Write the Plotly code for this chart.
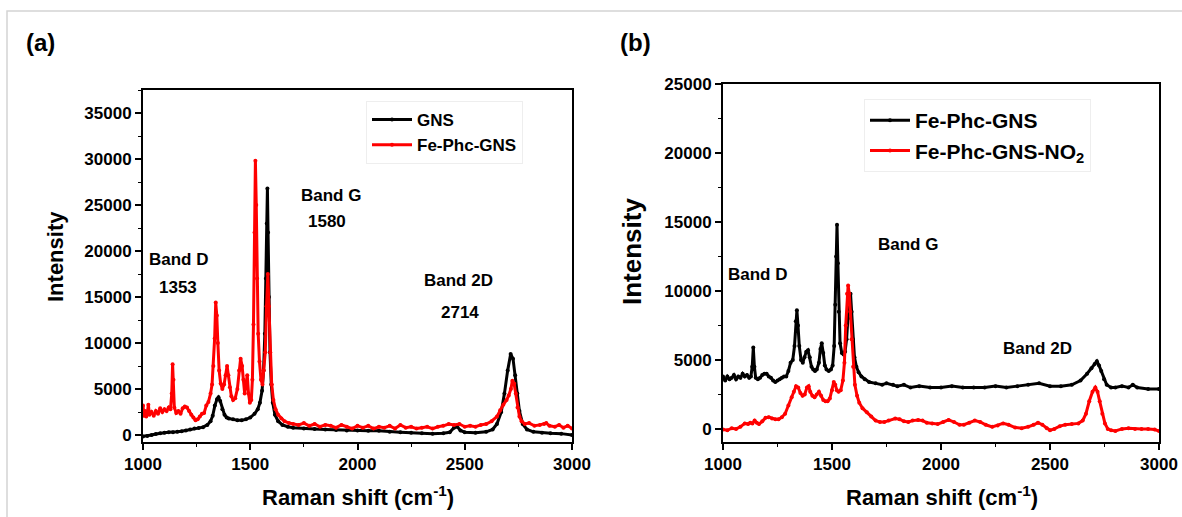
import plotly.graph_objects as go

W, H = 1182, 517

# ---------------- Panel (a) data ----------------
gns_x = [1000,1020,1040,1060,1080,1100,1120,1140,1160,1180,1200,1220,1240,1260,1280,1300,1315,1325,1335,1345,1352,1360,1370,1380,1390,1400,1420,1440,1460,1480,1500,1520,1535,1545,1555,1562,1568,1573,1577,1580,1583,1587,1592,1598,1605,1615,1630,1650,1675,1700,1750,1800,1850,1900,1950,2000,2050,2100,2150,2200,2250,2300,2350,2400,2430,2450,2465,2480,2500,2550,2600,2630,2650,2670,2685,2700,2714,2725,2735,2745,2755,2770,2790,2820,2860,2900,2950,3000]
gns_y = [-150,-100,0,100,200,250,300,300,350,400,500,600,700,750,850,1100,1500,2100,3200,3900,4100,3700,2800,2200,1900,1800,1700,1600,1600,1700,1900,2300,2800,3500,4800,7000,11000,17000,23000,26800,22000,15000,9000,5500,3500,2200,1500,1100,900,800,700,650,600,550,500,500,450,450,350,300,250,200,150,200,300,800,900,500,300,250,350,600,1200,2500,4500,7000,8800,8300,6500,4500,2600,1200,600,350,250,200,150,0]

fephc_x = [1000,1005,1010,1015,1020,1025,1030,1040,1050,1060,1070,1080,1090,1100,1110,1120,1128,1134,1138,1142,1146,1155,1165,1175,1185,1195,1205,1215,1225,1235,1245,1255,1265,1275,1285,1295,1305,1315,1322,1328,1334,1339,1344,1349,1355,1362,1370,1378,1385,1392,1398,1405,1412,1420,1430,1440,1448,1455,1462,1468,1474,1480,1486,1492,1498,1505,1510,1515,1520,1524,1528,1532,1537,1543,1550,1557,1563,1570,1576,1582,1587,1593,1600,1608,1618,1630,1645,1660,1680,1700,1725,1750,1775,1800,1825,1850,1875,1900,1925,1950,1975,2000,2025,2050,2075,2100,2125,2150,2175,2200,2225,2250,2275,2300,2325,2350,2375,2400,2425,2450,2475,2500,2525,2550,2575,2600,2625,2650,2665,2680,2695,2705,2715,2722,2730,2738,2746,2755,2765,2780,2800,2825,2850,2870,2880,2895,2920,2940,2960,2980,3000]
fephc_y = [3200,2100,2600,2000,2400,3300,2200,2500,2100,2600,2300,2900,2500,2800,2600,3000,2800,4500,7700,6000,3000,2400,2600,2300,2900,3100,3000,2600,2200,1900,1600,1700,2000,2300,2400,3200,3600,4500,5500,7500,10500,14400,13000,10000,7000,5600,5000,5500,6500,7500,6500,5200,4200,3800,4000,5000,7000,8300,7500,6000,4500,5500,6500,4500,3500,3800,6000,12000,22000,29800,25000,17000,11000,8000,6000,5500,7000,9000,14000,17500,14000,9000,5500,3800,2800,2200,1800,1500,1300,1200,1100,1300,1000,1200,900,1100,1000,800,1100,900,700,1000,800,1000,700,900,800,1000,700,1100,800,900,700,800,900,700,900,1000,1200,1100,1200,900,1000,900,1100,1200,1500,2000,2700,3300,3800,4300,5000,5900,5600,4500,3000,2000,1500,1200,1300,1000,1100,1200,1300,1000,900,1100,800,1000,700]

# ---------------- Panel (b) data ----------------
b_fephc_x = [1000,1010,1020,1030,1040,1050,1060,1070,1080,1090,1100,1110,1120,1128,1134,1139,1144,1150,1160,1170,1180,1190,1200,1210,1220,1230,1240,1250,1260,1270,1280,1290,1300,1310,1320,1328,1334,1339,1344,1350,1358,1366,1374,1382,1390,1398,1406,1414,1422,1430,1440,1447,1453,1460,1467,1475,1485,1495,1503,1510,1515,1519,1523,1527,1531,1537,1545,1553,1560,1567,1573,1580,1585,1590,1596,1603,1612,1622,1635,1650,1670,1700,1730,1750,1780,1800,1830,1860,1900,1950,2000,2050,2100,2150,2200,2250,2300,2350,2400,2450,2500,2550,2600,2640,2670,2690,2705,2715,2725,2735,2748,2760,2780,2800,2830,2860,2880,2900,2950,3000]
b_fephc_y = [3800,3500,3800,3600,3700,3900,3600,3800,3700,4000,3800,3900,3700,3800,4500,5900,4500,3700,3600,3700,3900,4000,4000,3800,3700,3500,3400,3500,3600,3700,3800,3800,4200,4800,5000,6000,7800,8600,7500,6000,5000,4800,5200,5600,5700,5200,4500,4300,4200,4300,4800,5800,6200,5500,4600,4300,4200,4300,4600,6000,9000,12500,14800,12000,8500,6200,5500,5400,5600,6500,8000,9200,9800,8500,6500,5200,4500,4100,3800,3600,3400,3300,3200,3300,3200,3100,3200,3000,3100,3000,3000,3100,3000,3000,3000,3100,3000,3100,3200,3300,3100,3100,3200,3500,4000,4400,4700,4900,4600,4200,3600,3200,3000,3000,3100,3000,3200,3000,2900,2900]

b_no2_x = [1000,1020,1040,1060,1080,1100,1115,1125,1135,1145,1155,1165,1180,1195,1210,1225,1240,1255,1270,1285,1300,1315,1325,1335,1345,1355,1365,1375,1385,1393,1400,1410,1420,1430,1440,1450,1460,1470,1480,1490,1500,1508,1515,1522,1530,1540,1550,1557,1563,1569,1574,1579,1584,1590,1597,1605,1615,1625,1640,1660,1680,1700,1720,1740,1760,1790,1810,1830,1850,1870,1895,1915,1935,1960,1985,2010,2035,2060,2085,2105,2130,2155,2180,2205,2235,2260,2285,2310,2340,2370,2400,2425,2445,2465,2485,2500,2520,2545,2570,2600,2630,2650,2665,2680,2695,2708,2718,2728,2740,2752,2765,2780,2800,2830,2860,2890,2920,2950,2980,3000]
b_no2_y = [-50,-100,50,0,150,400,350,450,400,600,450,350,550,800,850,750,700,700,850,1100,1700,2300,2700,3100,3000,2600,2400,2500,3000,3100,2700,2400,2300,2500,2700,2400,2100,2000,2000,2200,2800,3400,3200,2800,2700,2800,3500,4800,7500,9800,10400,9800,8500,6500,4500,3200,2400,1900,1500,1200,900,600,500,500,600,750,700,550,500,600,650,600,450,400,350,500,650,500,300,300,450,600,500,300,150,250,400,300,100,50,150,300,450,300,50,-100,0,200,300,350,400,600,1100,2000,2700,3000,2700,2000,1100,400,0,-100,-150,0,50,0,0,0,-50,-150]

# ticks
x_ticks = [1000, 1500, 2000, 2500, 3000]
ya_ticks = [0, 5000, 10000, 15000, 20000, 25000, 30000, 35000]
yb_ticks = [0, 5000, 10000, 15000, 20000, 25000]

FONT = "Liberation Sans, Arial, sans-serif"
BLACK = "#000000"
RED = "#ff0000"


def px(x):
    return x / W


def py(y):
    return 1 - y / H


fig = go.Figure()

LW, MS = 3, 4
fig.add_trace(go.Scatter(x=gns_x, y=gns_y, name="GNS", mode="lines+markers",
                         line=dict(color=BLACK, width=LW), marker=dict(size=MS, color=BLACK),
                         xaxis="x", yaxis="y", legend="legend"))
fig.add_trace(go.Scatter(x=fephc_x, y=fephc_y, name="Fe-Phc-GNS", mode="lines+markers",
                         line=dict(color=RED, width=LW), marker=dict(size=MS, color=RED),
                         xaxis="x", yaxis="y", legend="legend"))
fig.add_trace(go.Scatter(x=b_fephc_x, y=b_fephc_y, name="Fe-Phc-GNS", mode="lines+markers",
                         line=dict(color=BLACK, width=LW), marker=dict(size=MS, color=BLACK),
                         xaxis="x2", yaxis="y2", legend="legend2"))
fig.add_trace(go.Scatter(x=b_no2_x, y=b_no2_y, name="Fe-Phc-GNS-NO<sub>2</sub>", mode="lines+markers",
                         line=dict(color=RED, width=LW), marker=dict(size=MS, color=RED),
                         xaxis="x2", yaxis="y2", legend="legend2"))

tickfont = dict(family=FONT, size=17, color=BLACK, weight="bold")
common = dict(showline=True, linecolor=BLACK, linewidth=2, mirror=True,
              ticks="outside", ticklen=6, tickwidth=1.5, tickcolor=BLACK,
              showgrid=False, zeroline=False, tickfont=tickfont, tickformat="d",
              automargin=False,
              minor=dict(ticks="outside", ticklen=3, tickwidth=1.2, tickcolor=BLACK, showgrid=False))

fig.update_layout(
    width=W, height=H,
    margin=dict(l=0, r=0, t=0, b=0, pad=0),
    paper_bgcolor="white", plot_bgcolor="white",
    font=dict(family=FONT, color=BLACK),
    xaxis=dict(domain=[px(143), px(572)], anchor="y", range=[1000, 3000],
               tickvals=x_ticks, **{**common, "minor": dict(common["minor"], dtick=250, tick0=1000)}),
    yaxis=dict(domain=[py(442), py(90)], anchor="x", range=[-760, 37500],
               tickvals=ya_ticks, **{**common, "minor": dict(common["minor"], dtick=2500, tick0=0)}),
    xaxis2=dict(domain=[px(723), px(1159)], anchor="y2", range=[1000, 3000],
                tickvals=x_ticks, **{**common, "minor": dict(common["minor"], dtick=250, tick0=1000)}),
    yaxis2=dict(domain=[py(442), py(84)], anchor="x2", range=[-950, 25000],
                tickvals=yb_ticks, **{**common, "minor": dict(common["minor"], dtick=2500, tick0=0)}),
    legend=dict(x=px(366), y=py(101), xanchor="left", yanchor="top",
                bgcolor="white", bordercolor="#eeeeee", borderwidth=1,
                font=dict(family=FONT, size=17, color=BLACK, weight="bold"),
                tracegroupgap=0, itemwidth=40),
    legend2=dict(x=px(864), y=py(99), xanchor="left", yanchor="top",
                 bgcolor="white", bordercolor="#eeeeee", borderwidth=1,
                 font=dict(family=FONT, size=21, color=BLACK, weight="bold"),
                 tracegroupgap=0, itemwidth=40),
    showlegend=True,
)

annots = [
    # panel labels
    dict(text="(a)", x=40, y=42, size=24),
    dict(text="(b)", x=636, y=42, size=24),
    # axis titles
    dict(text="Raman shift (cm<sup>-1</sup>)", x=358, y=496, size=22),
    dict(text="Raman shift (cm<sup>-1</sup>)", x=942, y=496, size=22),
    dict(text="Intensity", x=55, y=257, size=22, angle=-90),
    dict(text="Intensity", x=632, y=252, size=26, angle=-90),
    # band labels (a)
    dict(text="Band D", x=179, y=259, size=17),
    dict(text="1353", x=178, y=287, size=17),
    dict(text="Band G", x=331, y=195, size=17),
    dict(text="1580", x=327, y=221, size=17),
    dict(text="Band 2D", x=458, y=280, size=17),
    dict(text="2714", x=460, y=312, size=17),
    # band labels (b)
    dict(text="Band D", x=758, y=274, size=17),
    dict(text="Band G", x=908, y=244, size=17),
    dict(text="Band 2D", x=1037, y=348, size=17),
]
for a in annots:
    fig.add_annotation(text=a["text"], x=px(a["x"]), y=py(a["y"]), xref="paper", yref="paper",
                       xanchor="center", yanchor="middle", showarrow=False,
                       textangle=a.get("angle", 0),
                       font=dict(family=FONT, size=a["size"], color=BLACK, weight="bold"))

# outer thin frame of the figure image
fig.add_shape(type="rect", xref="paper", yref="paper",
              x0=px(7), x1=1.02, y0=-0.02, y1=py(11),
              line=dict(color="#d4d4d4", width=1.5), fillcolor="rgba(0,0,0,0)", layer="below")

fig.write_html("out.html", config={"displayModeBar": False},
               post_script="document.body.style.margin='0';document.body.style.overflow='hidden';")
